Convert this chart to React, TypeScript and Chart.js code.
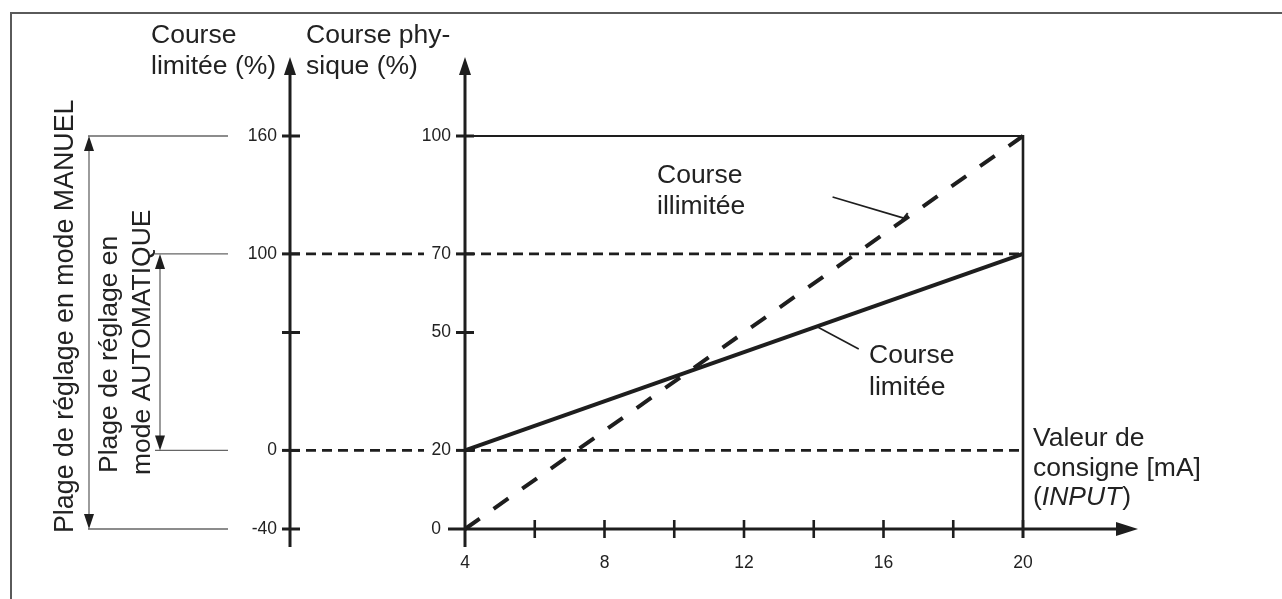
import React, { useEffect, useRef } from "react";
import { Chart, registerables } from "chart.js";

Chart.register(...registerables);

// ---- Data ----
const INPUT_MA = [4, 20];
const COURSE_ILLIMITEE = [0, 100];
const COURSE_LIMITEE = [20, 70];
const X_TICKS = [4, 6, 8, 10, 12, 14, 16, 18, 20];
const X_LABELS = [4, 8, 12, 16, 20];
const PHYS_TICKS = [0, 20, 50, 70, 100];
const LIM_TICKS = [-40, 0, 60, 100, 160];
const LIM_LABELS = ["-40", "0", "", "100", "160"];
const REF_LEVELS = [20, 70];
const MANUAL_RANGE = [-40, 160];
const AUTO_RANGE = [0, 100];

const FONT = '"Liberation Sans", Arial, Helvetica, sans-serif';
const INK = "#1e1e1e";
const TXT = "#222";
const THIN = "#666";

function seg(ctx: CanvasRenderingContext2D, x1: number, y1: number, x2: number, y2: number, w: number, c: string, dash: number[] = []) {
  ctx.save();
  ctx.beginPath();
  ctx.setLineDash(dash);
  ctx.lineWidth = w;
  ctx.strokeStyle = c;
  ctx.lineCap = "butt";
  ctx.moveTo(x1, y1);
  ctx.lineTo(x2, y2);
  ctx.stroke();
  ctx.restore();
}

function arrowHead(ctx: CanvasRenderingContext2D, tx: number, ty: number, dir: "up" | "down" | "right", len: number, half: number, c: string) {
  ctx.save();
  ctx.beginPath();
  ctx.fillStyle = c;
  if (dir === "up") {
    ctx.moveTo(tx, ty);
    ctx.lineTo(tx - half, ty + len);
    ctx.lineTo(tx + half, ty + len);
  } else if (dir === "down") {
    ctx.moveTo(tx, ty);
    ctx.lineTo(tx - half, ty - len);
    ctx.lineTo(tx + half, ty - len);
  } else {
    ctx.moveTo(tx, ty);
    ctx.lineTo(tx - len, ty - half);
    ctx.lineTo(tx - len, ty + half);
  }
  ctx.closePath();
  ctx.fill();
  ctx.restore();
}

function text(ctx: CanvasRenderingContext2D, s: string, x: number, y: number, size: number, align: CanvasTextAlign = "left", base: CanvasTextBaseline = "alphabetic", style = "") {
  ctx.save();
  ctx.font = `${style} ${size}px ${FONT}`.trim();
  ctx.fillStyle = TXT;
  ctx.textAlign = align;
  ctx.textBaseline = base;
  ctx.fillText(s, x, y);
  ctx.restore();
}

function rotText(ctx: CanvasRenderingContext2D, s: string, x: number, y: number, size: number) {
  ctx.save();
  ctx.translate(x, y);
  ctx.rotate(-Math.PI / 2);
  ctx.font = `${size}px ${FONT}`;
  ctx.fillStyle = TXT;
  ctx.textAlign = "left";
  ctx.textBaseline = "alphabetic";
  ctx.fillText(s, 0, 0);
  ctx.restore();
}

const diagramPlugin = {
  id: "diagram",
  beforeDatasetsDraw(chart: any) {
    const ctx: CanvasRenderingContext2D = chart.ctx;
    const xs = chart.scales.x;
    const ys = chart.scales.y;
    const y2 = chart.scales.y2;
    const x0 = xs.getPixelForValue(INPUT_MA[0]);
    const x1 = xs.getPixelForValue(INPUT_MA[1]);
    const yb = ys.getPixelForValue(0);
    const yt = ys.getPixelForValue(100);
    const leftAxisX = 290;

    // frame
    ctx.save();
    ctx.beginPath();
    ctx.strokeStyle = "#5a5a5a";
    ctx.lineWidth = 2;
    ctx.moveTo(11, 599);
    ctx.lineTo(11, 13);
    ctx.lineTo(1282, 13);
    ctx.stroke();
    ctx.restore();

    // reference dashed lines (interrupted by physical-axis labels)
    REF_LEVELS.forEach((v) => {
      const py = ys.getPixelForValue(v);
      seg(ctx, leftAxisX, py, 424, py, 2.6, INK, [10, 6]);
      seg(ctx, x0, py, x1, py, 2.6, INK, [10, 6]);
    });

    // top solid line and right vertical
    seg(ctx, x0, yt, x1, yt, 2, INK);
    seg(ctx, x1, yt - 1, x1, yb + 9, 2.6, INK);

    // left axis (course limitée)
    seg(ctx, leftAxisX, 547, leftAxisX, 70, 3, INK);
    arrowHead(ctx, leftAxisX, 57, "up", 18, 6, INK);
    LIM_TICKS.forEach((v, i) => {
      const py = y2.getPixelForValue(v);
      seg(ctx, leftAxisX - 8, py, leftAxisX + 10, py, 3, INK);
      if (LIM_LABELS[i]) text(ctx, LIM_LABELS[i], 277, py, 17.5, "right", "middle");
    });

    // physical axis
    seg(ctx, x0, 547, x0, 70, 3, INK);
    arrowHead(ctx, x0, 57, "up", 18, 6, INK);
    PHYS_TICKS.forEach((v) => {
      const py = ys.getPixelForValue(v);
      if (v !== 0) seg(ctx, x0 - 9, py, x0 + 9, py, 3, INK);
      text(ctx, String(v), v === 0 ? 441 : 451, py, 17.5, "right", "middle");
    });

    // x axis
    seg(ctx, 448, yb, 1122, yb, 3, INK);
    arrowHead(ctx, 1138, yb, "right", 22, 7, INK);
    X_TICKS.forEach((v) => {
      if (v === INPUT_MA[0]) return;
      const px = xs.getPixelForValue(v);
      seg(ctx, px, yb - 9, px, yb + 9, 2.6, INK);
    });
    X_LABELS.forEach((v) => {
      text(ctx, String(v), xs.getPixelForValue(v), 563, 17.5, "center", "middle");
    });

    // left range annotations
    const mTop = y2.getPixelForValue(MANUAL_RANGE[1]);
    const mBot = y2.getPixelForValue(MANUAL_RANGE[0]);
    const aTop = y2.getPixelForValue(AUTO_RANGE[1]);
    const aBot = y2.getPixelForValue(AUTO_RANGE[0]);
    seg(ctx, 88, mTop, 228, mTop, 1.3, THIN);
    seg(ctx, 88, mBot, 228, mBot, 1.3, THIN);
    seg(ctx, 89, mTop + 14, 89, mBot - 14, 1.3, THIN);
    arrowHead(ctx, 89, mTop, "up", 15, 5, INK);
    arrowHead(ctx, 89, mBot, "down", 15, 5, INK);
    seg(ctx, 155, aTop, 228, aTop, 1.3, THIN);
    seg(ctx, 155, aBot, 228, aBot, 1.3, THIN);
    seg(ctx, 160, aTop + 14, 160, aBot - 14, 1.3, THIN);
    arrowHead(ctx, 160, aTop, "up", 15, 5, INK);
    arrowHead(ctx, 160, aBot, "down", 15, 5, INK);
  },
  afterDatasetsDraw(chart: any) {
    const ctx: CanvasRenderingContext2D = chart.ctx;
    const xs = chart.scales.x;
    const ys = chart.scales.y;
    const P = (x: number, y: number) => [xs.getPixelForValue(x), ys.getPixelForValue(y)];

    // headers
    text(ctx, "Course", 151, 43, 26.5);
    text(ctx, "limitée (%)", 151, 74, 26.5);
    text(ctx, "Course phy-", 306, 43, 26.5);
    text(ctx, "sique (%)", 306, 74, 26.5);

    // rotated labels
    rotText(ctx, "Plage de réglage en mode MANUEL", 73, 533, 26.8);
    rotText(ctx, "Plage de réglage en", 117, 473, 26.5);
    rotText(ctx, "mode AUTOMATIQUE", 150, 475, 26.5);

    // series labels with leaders
    const [ia, ib] = [P(14.54, 84.5), P(16.58, 79.1)];
    seg(ctx, ia[0], ia[1], ib[0], ib[1], 1.6, INK);
    seg(ctx, ib[0] - 4, ib[1] + 5, ib[0] + 4, ib[1] - 5, 2, INK);
    text(ctx, "Course", 657, 183, 26.5);
    text(ctx, "illimitée", 657, 214, 26.5);

    const [la, lb] = [P(14.11, 51.4), P(15.29, 45.8)];
    seg(ctx, la[0], la[1], lb[0], lb[1], 1.6, INK);
    text(ctx, "Course", 869, 363, 26.5);
    text(ctx, "limitée", 869, 395, 26.5);

    // x axis title
    text(ctx, "Valeur de", 1033, 446, 26.5);
    text(ctx, "consigne [mA]", 1033, 476, 26.5);
    ctx.save();
    ctx.font = `26.5px ${FONT}`;
    const wOpen = ctx.measureText("(").width;
    ctx.font = `italic 26.5px ${FONT}`;
    const wIn = ctx.measureText("INPUT").width;
    ctx.restore();
    text(ctx, "(", 1033, 505, 26.5);
    text(ctx, "INPUT", 1033 + wOpen, 505, 26.5, "left", "alphabetic", "italic");
    text(ctx, ")", 1033 + wOpen + wIn + 1, 505, 26.5);
  },
};

export default function App() {
  const ref = useRef<HTMLCanvasElement | null>(null);
  useEffect(() => {
    document.body.style.margin = "0";
    const canvas = ref.current;
    if (!canvas) return;
    const chart = new Chart(canvas, {
      type: "line",
      data: {
        datasets: [
          {
            label: "Course illimitée",
            data: INPUT_MA.map((v, i) => ({ x: v, y: COURSE_ILLIMITEE[i] })),
            borderColor: INK,
            borderWidth: 4,
            borderDash: [18, 17],
            borderCapStyle: "butt",
            pointRadius: 0,
            clip: false as any,
            yAxisID: "y",
          },
          {
            label: "Course limitée",
            data: INPUT_MA.map((v, i) => ({ x: v, y: COURSE_LIMITEE[i] })),
            borderColor: INK,
            borderWidth: 4,
            pointRadius: 0,
            clip: false as any,
            yAxisID: "y",
          },
        ],
      },
      options: {
        responsive: false,
        animation: false,
        devicePixelRatio: 1,
        layout: { padding: { left: 465, right: 259, top: 136, bottom: 70 } },
        scales: {
          x: { type: "linear", min: 4, max: 20, display: false },
          y: { type: "linear", min: 0, max: 100, display: false },
          y2: { type: "linear", min: -40, max: 160, display: false },
        },
        plugins: { legend: { display: false }, tooltip: { enabled: false } },
      },
      plugins: [diagramPlugin],
    });
    return () => chart.destroy();
  }, []);
  return (
    <div style={{ width: 1282, height: 599, background: "#fff" }}>
      <canvas ref={ref} width={1282} height={599} style={{ display: "block" }} />
    </div>
  );
}
